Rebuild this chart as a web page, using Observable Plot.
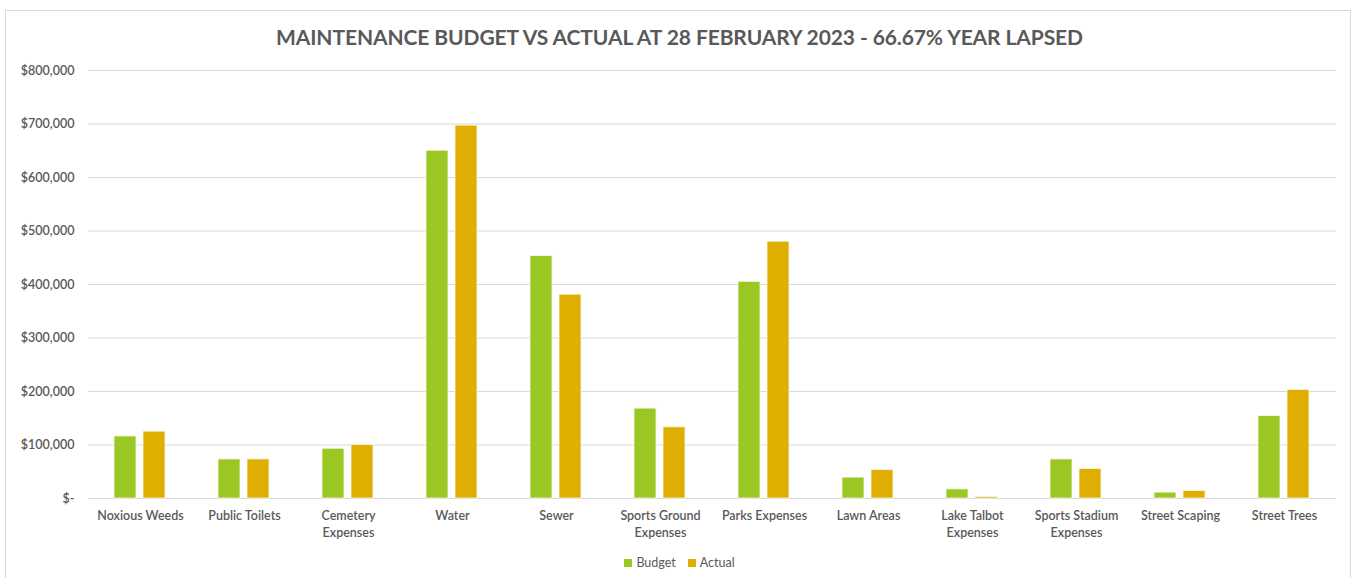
<!DOCTYPE html>
<html>
<head>
<meta charset="utf-8">
<script src="https://cdn.jsdelivr.net/npm/d3@7"></script>
<script src="https://cdn.jsdelivr.net/npm/@observablehq/plot@0.6"></script>
<style>
  html, body { margin: 0; padding: 0; background: #fff; }
  body { width: 1359px; height: 578px; overflow: hidden; position: relative; font-family: Lato, "Open Sans", sans-serif; }
  #frame { position: absolute; left: 5px; top: 10px; width: 1346px; height: 600px; border: 1px solid #d9d9d9; box-sizing: border-box; }
  #title { position: absolute; left: 0; top: 24px; width: 1359px; text-align: center; font-size: 21px; font-weight: 700; color: #595959; letter-spacing: -0.1px; }
  #chart { position: absolute; left: 0; top: 55px; }
  #legend { position: absolute; top: 555px; left: 0; width: 1359px; display: flex; justify-content: center; gap: 12px; font-size: 12.5px; color: #595959; }
  .item { display: flex; align-items: center; gap: 4px; }
  .sw { width: 8px; height: 8px; display: inline-block; }
</style>
</head>
<body>
<div id="frame"></div>
<div id="title">MAINTENANCE BUDGET VS ACTUAL AT 28 FEBRUARY 2023 - 66.67% YEAR LAPSED</div>
<div id="chart"></div>
<div id="legend"></div>
<script>
const categories = ["Noxious Weeds", "Public Toilets", "Cemetery Expenses", "Water", "Sewer", "Sports Ground Expenses", "Parks Expenses", "Lawn Areas", "Lake Talbot Expenses", "Sports Stadium Expenses", "Street Scaping", "Street Trees"];
const categoryLabels = ["Noxious Weeds", "Public Toilets", "Cemetery\nExpenses", "Water", "Sewer", "Sports Ground\nExpenses", "Parks Expenses", "Lawn Areas", "Lake Talbot\nExpenses", "Sports Stadium\nExpenses", "Street Scaping", "Street Trees"];
const series = ["Budget", "Actual"];
const colors = ["#9bc723", "#dfae00"];
const budget = [116000, 73000, 93000, 650000, 453000, 168000, 405000, 39000, 17000, 73000, 11000, 154000];
const actual = [125000, 73000, 100000, 697000, 381000, 133000, 480000, 53000, 3000, 55000, 14000, 203000];
const yTicks = [0, 100000, 200000, 300000, 400000, 500000, 600000, 700000, 800000];

const data = [];
categories.forEach((c, i) => {
  data.push({category: c, series: "Budget", value: budget[i]});
  data.push({category: c, series: "Actual", value: actual[i]});
});
const labelOf = new Map(categories.map((c, i) => [c, categoryLabels[i]]));
const fmt = d => d === 0 ? "$-" : "$" + d3.format(",")(d);

const chart = Plot.plot({
  width: 1359,
  height: 495,
  marginTop: 15,
  marginBottom: 52,
  marginLeft: 86,
  marginRight: 21,
  style: {fontFamily: "Lato, 'Open Sans', sans-serif", fontSize: "12.5px", color: "#595959", background: "transparent", overflow: "visible"},
  fx: {domain: categories, padding: 0, label: null, axis: null},
  x: {domain: series, paddingInner: 0.233, paddingOuter: 0.855, axis: null},
  y: {domain: [0, 800000], label: null},
  color: {domain: series, range: colors},
  marks: [
    Plot.gridY(yTicks, {stroke: "#d9d9d9", strokeOpacity: 1, strokeWidth: 1}),
    Plot.axisY(yTicks, {tickSize: 0, tickPadding: 14, tickFormat: fmt, label: null, fontWeight: 600, fontSize: 12.5}),
    Plot.axisFx({anchor: "bottom", tickSize: 0, tickPadding: 10, tickFormat: d => labelOf.get(d), label: null, fontWeight: 600, fontSize: 12.5, lineHeight: 1.35}),
    Plot.barY(data, {fx: "category", x: "series", y: "value", fill: "series", stroke: "#f4f9e6", strokeWidth: 0.8})
  ]
});
document.getElementById("chart").appendChild(chart);

const legend = document.getElementById("legend");
series.forEach((s, i) => {
  const it = document.createElement("div");
  it.className = "item";
  const sw = document.createElement("span");
  sw.className = "sw";
  sw.style.background = colors[i];
  const t = document.createElement("span");
  t.textContent = s;
  it.appendChild(sw);
  it.appendChild(t);
  legend.appendChild(it);
});
</script>
</body>
</html>
